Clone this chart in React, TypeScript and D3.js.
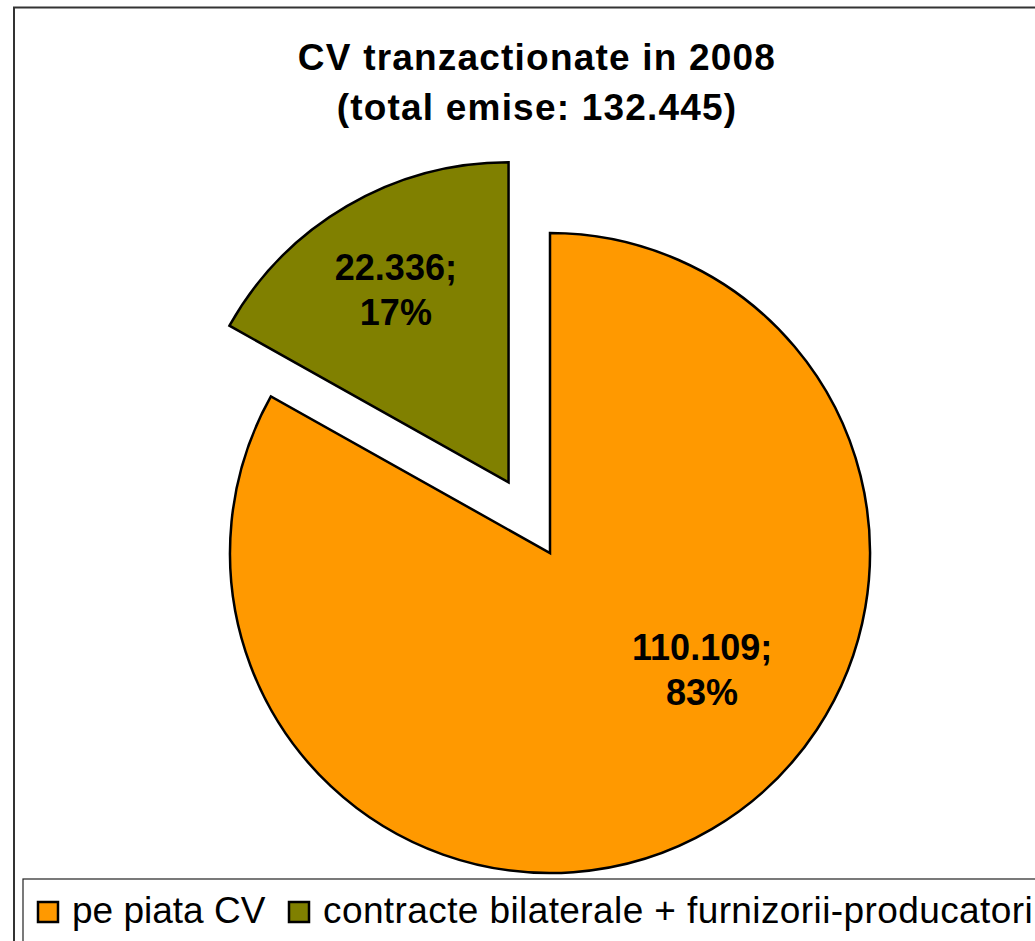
import React from "react";
import * as d3 from "d3";

const categories = ["pe piata CV", "contracte bilaterale + furnizorii-producatori"];
const values = [110109, 22336];
const valueLabels = ["110.109;", "22.336;"];
const percentLabels = ["83%", "17%"];
const colors = ["#FF9900", "#808000"];
const titleLines = ["CV tranzactionate in 2008", "(total emise: 132.445)"];

const W = 1035;
const H = 941;
const cx = 550;
const cy = 553;
const R = 320;
const explode = [0, 82];
// label placement (angle in degrees clockwise from top, radius from slice apex)
const labelAngle = [127.6, null];
const labelRadius = [192, 223];

export default function App() {
  const pie = d3.pie<number>().sort(null).value((d) => d);
  const arcs = pie(values);
  const arcGen = d3.arc<d3.PieArcDatum<number>>().innerRadius(0).outerRadius(R);
  const legendX = [38, 289];
  const legendSpacing = [0, 0.4];

  return (
    <svg
      width={W}
      height={H}
      style={{ position: "absolute", left: 0, top: 0, background: "#fff" }}
      fontFamily="'Liberation Sans', Arial, sans-serif"
    >
      <rect x={14} y={7.5} width={W + 20} height={H + 20} fill="#fff" stroke="#333" strokeWidth={2} />
      {titleLines.map((t, i) => (
        <text
          key={i}
          x={537}
          y={70 + i * 50}
          textAnchor="middle"
          fontSize={37}
          fontWeight="bold"
          letterSpacing={1.2}
          fill="#000"
        >
          {t}
        </text>
      ))}
      {arcs.map((a, i) => {
        const mid = (a.startAngle + a.endAngle) / 2;
        const [ox, oy] = d3.pointRadial(mid, explode[i]);
        const la = labelAngle[i] != null ? (labelAngle[i] as number) * Math.PI / 180 : mid;
        const [lx, ly] = d3.pointRadial(la, labelRadius[i]);
        return (
          <g key={i} transform={`translate(${cx + ox},${cy + oy})`}>
            <path d={arcGen(a) || ""} fill={colors[i]} stroke="#000" strokeWidth={2.5} strokeLinejoin="miter" />
            <text x={lx} y={ly - 10} textAnchor="middle" fontSize={36} fontWeight="bold" fill="#000">
              <tspan x={lx} dy={0}>{valueLabels[i]}</tspan>
              <tspan x={lx} dy={45}>{percentLabels[i]}</tspan>
            </text>
          </g>
        );
      })}
      <rect x={23} y={879} width={W} height={100} fill="#fff" stroke="#222" strokeWidth={1.2} />
      {categories.map((c, i) => (
        <g key={i}>
          <rect x={legendX[i]} y={902} width={20} height={20} fill={colors[i]} stroke="#000" strokeWidth={2.5} />
          <text x={legendX[i] + 34} y={923} fontSize={37} letterSpacing={legendSpacing[i]} fill="#000">
            {c}
          </text>
        </g>
      ))}
    </svg>
  );
}
